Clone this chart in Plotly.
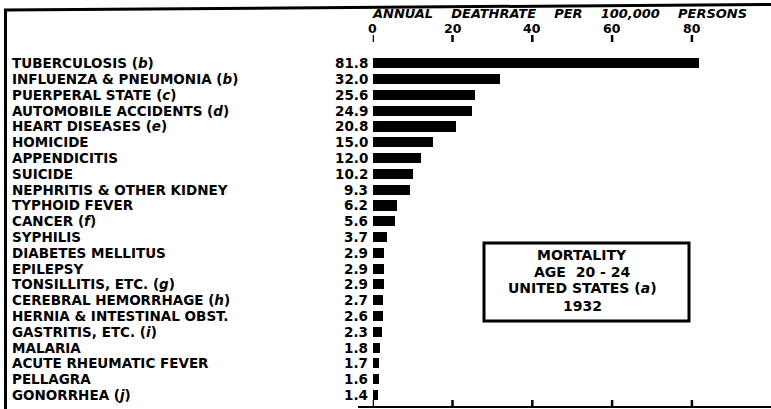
import plotly.graph_objects as go

causes = [
    "TUBERCULOSIS (<i>b</i>)",
    "INFLUENZA & PNEUMONIA (<i>b</i>)",
    "PUERPERAL STATE (<i>c</i>)",
    "AUTOMOBILE ACCIDENTS (<i>d</i>)",
    "HEART DISEASES (<i>e</i>)",
    "HOMICIDE",
    "APPENDICITIS",
    "SUICIDE",
    "NEPHRITIS & OTHER KIDNEY",
    "TYPHOID FEVER",
    "CANCER (<i>f</i>)",
    "SYPHILIS",
    "DIABETES MELLITUS",
    "EPILEPSY",
    "TONSILLITIS, ETC. (<i>g</i>)",
    "CEREBRAL HEMORRHAGE (<i>h</i>)",
    "HERNIA & INTESTINAL OBST.",
    "GASTRITIS, ETC. (<i>i</i>)",
    "MALARIA",
    "ACUTE RHEUMATIC FEVER",
    "PELLAGRA",
    "GONORRHEA (<i>j</i>)",
]
rates = [81.8, 32.0, 25.6, 24.9, 20.8, 15.0, 12.0, 10.2, 9.3, 6.2, 5.6, 3.7,
         2.9, 2.9, 2.9, 2.7, 2.6, 2.3, 1.8, 1.7, 1.6, 1.4]
tick_vals = [0, 20, 40, 60, 80]
axis_title = "ANNUAL    DEATHRATE    PER    100,000    PERSONS"
box_lines = ["MORTALITY", "AGE  20 - 24", "UNITED STATES (<i>a</i>)", "1932"]

W, H = 771, 409
FONT = "DejaVu Sans"
rows = list(range(len(causes)))

def px(x):
    return x / W

def py(y):
    return 1 - y / H

fig = go.Figure()
fig.add_trace(go.Bar(
    x=rates, y=rows, orientation="h",
    marker=dict(color="black", line=dict(width=0)),
    width=0.64, hoverinfo="skip",
))

annotations = []
for i, (c, v) in enumerate(zip(causes, rates)):
    annotations.append(dict(
        text=f"<b>{c}</b>", xref="paper", x=px(11), xanchor="left",
        yref="y", y=i, yanchor="middle", showarrow=False, borderpad=0,
        font=dict(family=FONT, size=13.5, color="black"),
    ))
    annotations.append(dict(
        text=f"<b>{v:.1f}</b>", xref="paper", x=px(369), xanchor="right",
        yref="y", y=i, yanchor="middle", showarrow=False, borderpad=0,
        font=dict(family=FONT, size=13.5, color="black"),
    ))

# top tick labels, placed on the data scale
for t in tick_vals:
    annotations.append(dict(
        text=f"<b>{t}</b>", xref="x", x=t, xanchor="center",
        yref="paper", y=py(28.5), yanchor="middle", showarrow=False, borderpad=0,
        font=dict(family=FONT, size=12.5, color="black"),
    ))

annotations.append(dict(
    text=f"<b><i>{axis_title}</i></b>", xref="paper", x=px(559), xanchor="center",
    yref="paper", y=py(13.5), yanchor="middle", showarrow=False, borderpad=0,
    font=dict(family=FONT, size=13, color="black"),
))

box_y = [255, 271.5, 288, 306]
for t, yy in zip(box_lines, box_y):
    annotations.append(dict(
        text=f"<b>{t}</b>", xref="paper", x=px(582), xanchor="center",
        yref="paper", y=py(yy), yanchor="middle", showarrow=False, borderpad=0,
        font=dict(family=FONT, size=14, color="black"),
    ))

shapes = [
    dict(type="line", xref="paper", yref="paper", x0=px(4), y0=py(10), x1=1, y1=py(4.5),
         line=dict(color="black", width=3)),
    dict(type="line", xref="paper", yref="paper", x0=px(5.5), y0=py(9), x1=px(5.5), y1=0,
         line=dict(color="black", width=3)),
    dict(type="rect", xref="paper", yref="paper", x0=px(484), y0=py(243), x1=px(689), y1=py(321),
         line=dict(color="black", width=3)),
    dict(type="line", xref="paper", yref="paper", x0=px(358), y0=py(407), x1=1, y1=py(407),
         line=dict(color="black", width=2)),
]
# tick marks at top and bottom, on the data scale
for t in tick_vals:
    shapes.append(dict(type="line", xref="x", yref="paper", x0=t, x1=t,
                       y0=py(35), y1=py(42), line=dict(color="black", width=2.5)))
    shapes.append(dict(type="line", xref="x", yref="paper", x0=t, x1=t,
                       y0=py(400), y1=py(407), line=dict(color="black", width=2.5)))

x_dom = [px(372.7), 1]
x_rng = [0, (W - 372.7) / 3.99]
fig.update_layout(
    width=W, height=H, autosize=False,
    margin=dict(l=0, r=0, t=0, b=0),
    paper_bgcolor="white", plot_bgcolor="white",
    showlegend=False,
    bargap=0,
    xaxis=dict(
        domain=x_dom, range=x_rng, anchor="y",
        showticklabels=False, ticks="",
        showline=False, showgrid=False, zeroline=False,
    ),
    yaxis=dict(
        domain=[py(407), py(42)], range=[21.76, -1.348],
        showticklabels=False, showgrid=False, zeroline=False, showline=False, ticks="",
    ),
    annotations=annotations,
    shapes=shapes,
)

fig.write_html(
    "out.html",
    config={"displayModeBar": False, "staticPlot": True},
    post_script="document.body.style.margin='0';document.body.style.overflow='hidden';",
)
